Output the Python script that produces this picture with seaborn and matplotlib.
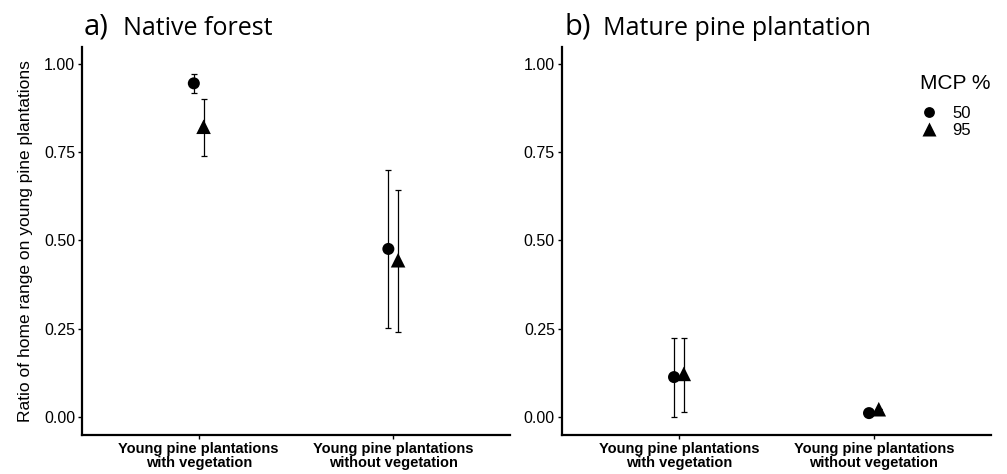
import matplotlib
matplotlib.use("Agg")
import matplotlib.pyplot as plt
import numpy as np
import pandas as pd
import seaborn as sns

# categories and values
categories = ["Young pine plantations\nwith vegetation",
              "Young pine plantations\nwithout vegetation"]
mcp = ["50", "95"]

# panel a) native forest
native_mean = {"50": [0.945, 0.476], "95": [0.822, 0.444]}
native_low = {"50": [0.918, 0.252], "95": [0.740, 0.241]}
native_high = {"50": [0.972, 0.700], "95": [0.900, 0.643]}

# panel b) mature pine plantation
mature_mean = {"50": [0.113, 0.011], "95": [0.122, 0.022]}
mature_low = {"50": [0.000, 0.011], "95": [0.014, 0.022]}
mature_high = {"50": [0.224, 0.011], "95": [0.224, 0.022]}

sns.set_style("white")
plt.rcParams["font.family"] = ["Liberation Sans", "DejaVu Sans"]
for key in ["text.color", "axes.labelcolor", "xtick.color", "ytick.color"]:
    plt.rcParams[key] = "black"

fig = plt.figure(figsize=(10.07, 4.74), dpi=100)
ax1 = fig.add_axes([0.0814, 0.0823, 0.425, 0.8186])
ax2 = fig.add_axes([0.558, 0.0823, 0.426, 0.8186])

offsets = {"50": -0.025, "95": 0.025}
markers = {"50": "o", "95": "^"}
sizes = {"50": 75, "95": 110}


def draw_panel(ax, mean, low, high, letter, title, legend):
    rows = []
    for m in mcp:
        for i, c in enumerate(categories):
            rows.append({"x": i + offsets[m], "y": mean[m][i], "MCP": m,
                         "lo": low[m][i], "hi": high[m][i]})
    df = pd.DataFrame(rows)
    for m in mcp:
        d = df[df.MCP == m]
        yerr = np.vstack([d.y - d.lo, d.hi - d.y])
        ax.errorbar(d.x, d.y, yerr=yerr, fmt="none", ecolor="black",
                    elinewidth=0.9, capsize=2.5, capthick=0.9, zorder=1)
    sns.scatterplot(data=df, x="x", y="y", style="MCP", markers=markers,
                    size="MCP", sizes=sizes, color="black", edgecolor="none",
                    ax=ax, legend=legend, zorder=2)
    ax.set_xlim(-0.6, 1.6)
    ax.set_ylim(-0.051, 1.048)
    ax.set_xticks([0, 1])
    ax.set_xticklabels(categories, fontweight="bold", fontsize=10.5,
                       linespacing=1.0)
    ax.set_yticks([0, 0.25, 0.5, 0.75, 1.0])
    ax.set_yticklabels(["0.00", "0.25", "0.50", "0.75", "1.00"], fontsize=11.5)
    ax.set_xlabel("")
    ax.set_ylabel("")
    for s in ["top", "right"]:
        ax.spines[s].set_visible(False)
    for s in ["left", "bottom"]:
        ax.spines[s].set_linewidth(1.6)
        ax.spines[s].set_color("black")
    ax.tick_params(axis="both", length=3, width=1, color="black",
                   direction="out", bottom=True, left=True, pad=2)
    ax.text(0.005, 1.032, letter, transform=ax.transAxes, fontsize=21,
            family="Open Sans", va="baseline", ha="left")
    ax.text(0.095, 1.032, title, transform=ax.transAxes, fontsize=18,
            family="Open Sans", va="baseline", ha="left")


draw_panel(ax1, native_mean, native_low, native_high, "a)", "Native forest",
           False)
draw_panel(ax2, mature_mean, mature_low, mature_high, "b)",
           "Mature pine plantation", True)

ax1.set_ylabel("Ratio of home range on young pine plantations", fontsize=12.5,
               labelpad=8)

leg = ax2.legend(title="MCP %", loc="upper right", bbox_to_anchor=(1.035, 0.968),
                 frameon=False, fontsize=12, title_fontsize=15,
                 handlelength=1.0, handletextpad=0.9, labelspacing=0.1,
                 markerscale=0.9)
leg._legend_box.align = "left"
leg._legend_box.sep = 9

fig.savefig("out.png", dpi=100)
